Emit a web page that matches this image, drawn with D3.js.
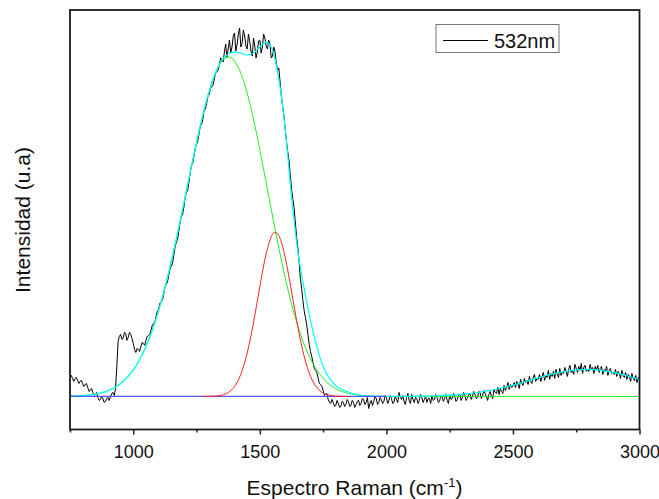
<!DOCTYPE html>
<html>
<head>
<meta charset="utf-8">
<script src="https://cdn.jsdelivr.net/npm/d3@7"></script>
<style>
  html, body { margin: 0; padding: 0; background: #fff; }
  svg { display: block; font-family: "Liberation Sans", Arial, sans-serif; }
</style>
</head>
<body>
<svg id="chart" width="659" height="499"></svg>
<script>
// ---- Data (intensity in arbitrary units, baseline = 0) ----
const shiftStart = 750;
const shiftStep = 5;
const spectrum532 = [
  19,21,18,15,18,19,16,13,15,16,
  13,10,12,13,9,5,6,8,4,1,2,4,-1,-4,-3,0,-2,-6,-5,-2,
  -1,-4,0,3,4,1,8,30,55,60,62,57,58,64,63,56,59,64,62,58,
  53,47,44,48,47,45,50,54,53,51,56,60,61,62,66,71,73,74,80,85,
  87,93,95,96,102,109,112,114,121,127,130,133,141,149,154,157,165,174,180,182,
  189,199,204,206,214,224,231,233,240,248,252,255,263,270,272,277,286,287,293,300,
  302,308,309,311,317,323,324,326,331,338,337,334,344,352,339,347,356,343,349,360,
  363,345,351,362,368,349,353,366,360,350,347,362,355,345,340,358,350,338,344,355,
  356,343,349,362,358,350,347,356,352,338,340,349,344,333,326,328,314,300,290,281,
  268,255,245,236,222,208,198,189,175,160,149,135,118,108,96,86,79,72,62,52,
  45,40,34,28,26,24,19,13,12,10,6,1,2,3,-3,-6,-7,-3,-6,-10,
  -9,-4,-7,-11,-10,-5,-6,-10,-8,-3,-5,-10,-9,-4,-6,-11,-8,-5,-4,-9,
  -7,-2,-3,-8,-6,-1,-12,-7,-4,-9,-5,0,-2,-8,-6,-1,-3,-7,-5,1,
  -1,-7,-4,1,-2,-7,-6,0,-3,-6,4,-1,-3,1,-5,-8,-1,3,-4,-7,
  2,-3,-6,-1,-2,-7,-4,2,-1,-6,-3,0,-6,-2,-2,-7,1,-4,-3,2,
  -1,-6,-5,1,0,-5,-2,2,-4,-7,1,-3,-2,3,0,-5,-3,1,2,-4,
  -1,4,1,-4,-2,2,3,-3,0,5,2,-2,-1,5,4,-2,1,6,3,0,
  -4,2,5,0,-2,7,4,3,9,2,8,5,3,11,6,9,14,7,12,9,
  10,14,9,15,12,8,17,13,11,18,14,16,12,20,15,13,19,22,15,18,
  17,22,15,20,24,16,21,19,26,17,23,20,25,18,27,22,19,28,21,24,
  23,29,25,20,27,31,24,26,22,32,28,24,30,26,33,23,29,31,25,27,
  25,32,27,29,23,30,26,31,24,28,30,22,27,25,30,21,26,28,23,24,
  22,27,20,25,23,18,26,21,19,24,17,22,20,15,23,18,16,21,14,19,
  17
];

// Green fitted band (~1377 cm-1)
const greenX = [750,775,800,825,850,875,900,925,950,975,1000,1025,1050,1075,1100,1125,1150,1175,1200,1225,1250,1275,1300,1325,1350,
  1377,
  1400,1425,1450,1475,1500,1525,1550,1575,1600,1625,1650,1675,1700,1725,1750,1775,1800,1825,1850,1875,1900,1925,1950,
  2000,3000];
const greenY = [0.3,0.5,0.9,1.4,2.3,3.7,5.7,8.7,12.9,18.7,26.5,36.8,49.9,66.1,85.7,108.6,134.6,163.1,193.3,224.0,253.9,281.3,304.8,323.0,334.6,
  339,
  335.2,322.9,303.0,276.9,246.4,213.6,180.4,148.3,118.8,92.7,70.4,52.1,37.6,26.4,18.0,12.0,7.8,4.9,3.0,1.8,1.1,0.6,0.3,
  0.1,0];

// Red fitted band (~1561 cm-1)
const redX = [1275,1300,1325,1350,1375,1400,1425,1450,1475,1500,1525,1550,1561,1575,1600,1625,1650,1675,1700,1725,1750,1775,1800,1825,1850];
const redY = [0.0,0.1,0.4,1.3,3.9,9.9,22.2,43.3,73.7,109.7,142.6,161.9,164,160.6,139.1,105.3,69.6,40.2,20.3,9.0,3.4,1.2,0.3,0.1,0];

// Cyan cumulative fit
const fitX = [750,775,800,825,850,875,900,925,950,975,1000,1025,1050,1075,1100,1125,1150,1175,1200,1225,1250,1275,1300,1325,1350,1375,
  1400,1425,1450,1475,1500,1525,1550,1575,1600,1625,1650,1675,1700,1725,1750,1775,1800,1825,1850,1875,1900,1925,1950,
  2000,2050,2100,2150,2200,2250,2300,2350,2400,2450,2500,2550,2600,2650,2700,2750,2800,2850,2900,2950,3000];
const fitY = [0.3,0.5,0.9,1.4,2.3,3.7,5.7,8.7,12.9,18.7,26.5,36.8,49.9,66.1,85.7,108.6,134.6,163.1,193.3,224.0,253.9,281.3,304.9,323.4,336,342,
  344,343,341,343,349,354,346,317,268,200,145,108,76,50,30,18,11,7,4.5,2.5,1.2,0.6,0.3,
  0.1,0.1,0.2,0.4,0.7,1.3,2.3,3.7,5.6,8.2,11.3,14.9,18.6,22.1,24.8,26.6,27.0,26.0,23.8,20.7,17.1];

// Blue baseline
const baseX = [750, 2000];
const baseY = [0, 0];

const majorTicks = [1000, 1500, 2000, 2500, 3000];
const minorTicks = [750, 1250, 1750, 2250, 2750];
const legendLabel = "532nm";

// ---- Chart ----
const svg = d3.select("#chart");
const x = d3.scaleLinear().domain([750, 3000]).range([70, 639.5]);
const y = d3.scaleLinear().domain([-33, 386]).range([429.5, 10]);

const zip = (xs, ys) => xs.map((v, i) => [v, ys[i]]);
const specData = spectrum532.map((v, i) => [shiftStart + i * shiftStep, v]);

const plot = svg.append("g");
plot.append("clipPath").attr("id", "clip")
  .append("rect").attr("x", 70).attr("y", 10).attr("width", 569.5).attr("height", 419.5);
const g = plot.append("g").attr("clip-path", "url(#clip)");

const lineStraight = d3.line().x(d => x(d[0])).y(d => y(d[1]));
const lineSmooth = d3.line().x(d => x(d[0])).y(d => y(d[1])).curve(d3.curveMonotoneX);

g.append("path").datum(specData).attr("d", lineStraight)
  .attr("fill", "none").attr("stroke", "#000").attr("stroke-width", 1);

g.append("path").datum(zip(greenX, greenY)).attr("d", lineSmooth)
  .attr("fill", "none").attr("stroke", "#22ee22").attr("stroke-width", 1);

g.append("path").datum(zip(fitX, fitY)).attr("d", lineSmooth)
  .attr("fill", "none").attr("stroke", "#00ffff").attr("stroke-width", 1.2);

g.append("path").datum(zip(baseX, baseY)).attr("d", lineStraight)
  .attr("fill", "none").attr("stroke", "#5555ff").attr("stroke-width", 1.2);

g.append("path").datum(zip(redX, redY)).attr("d", lineSmooth)
  .attr("fill", "none").attr("stroke", "#ff2020").attr("stroke-width", 1);

// Axes
const axisMajor = d3.axisBottom(x).tickValues(majorTicks).tickSize(5).tickPadding(11)
  .tickFormat(d3.format("d"));
const gx = svg.append("g").attr("transform", "translate(0,429.5)").call(axisMajor);
gx.select(".domain").remove();
gx.selectAll("line").attr("stroke", "#222").attr("stroke-width", 1.5);
gx.selectAll("text").attr("font-size", 18).attr("fill", "#111")
  .attr("font-family", "'Liberation Sans', Arial, sans-serif");

const axisMinor = d3.axisBottom(x).tickValues(minorTicks).tickSize(3).tickFormat("");
const gxm = svg.append("g").attr("transform", "translate(0,429.5)").call(axisMinor);
gxm.select(".domain").remove();
gxm.selectAll("line").attr("stroke", "#222").attr("stroke-width", 1.5);

// Frame
svg.append("rect").attr("x", 70).attr("y", 10).attr("width", 569.5).attr("height", 419.5)
  .attr("fill", "none").attr("stroke", "#1a1a1a").attr("stroke-width", 1.8);

// Axis titles
const xt = svg.append("text").attr("x", 354.5).attr("y", 495).attr("text-anchor", "middle")
  .attr("font-size", 21).attr("fill", "#111");
xt.append("tspan").text("Espectro Raman (cm");
xt.append("tspan").attr("font-size", 13).attr("dy", -8).text("-1");
xt.append("tspan").attr("dy", 8).text(")");

svg.append("text").attr("transform", "translate(29.5,220) rotate(-90)")
  .attr("text-anchor", "middle").attr("font-size", 21).attr("fill", "#111")
  .text("Intensidad (u.a)");

// Legend
const lg = svg.append("g");
lg.append("rect").attr("x", 436).attr("y", 24.5).attr("width", 123).attr("height", 28)
  .attr("fill", "#fff").attr("stroke", "#777").attr("stroke-width", 1);
lg.append("line").attr("x1", 443).attr("x2", 488).attr("y1", 40.5).attr("y2", 40.5)
  .attr("stroke", "#000").attr("stroke-width", 1);
lg.append("text").attr("x", 494).attr("y", 47.5).attr("font-size", 20).attr("fill", "#111")
  .text(legendLabel);
</script>
</body>
</html>
